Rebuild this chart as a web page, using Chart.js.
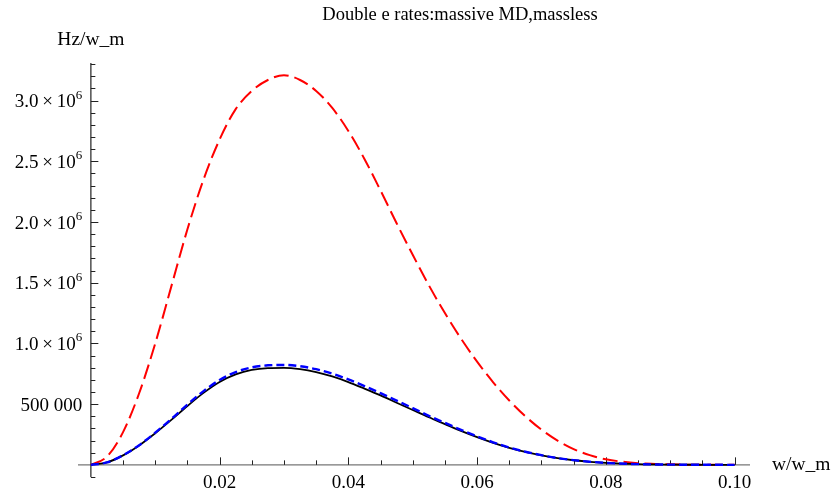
<!DOCTYPE html>
<html>
<head>
<meta charset="utf-8">
<script src="https://cdn.jsdelivr.net/npm/chart.js@4.4.0/dist/chart.umd.min.js"></script>
<style>
  html, body { margin: 0; padding: 0; background: #fff; }
  #wrap { width: 831px; height: 500px; }
</style>
</head>
<body>
<div id="wrap"><canvas id="canvas"></canvas></div>
<script>
// w/w_m sample points
const xVals = [0, 0.0025, 0.005, 0.0075, 0.01, 0.0125, 0.015, 0.0175, 0.02, 0.0225,
               0.025, 0.0275, 0.03, 0.0325, 0.035, 0.0375, 0.04, 0.0425, 0.045, 0.0475,
               0.05, 0.0525, 0.055, 0.0575, 0.06, 0.0625, 0.065, 0.0675, 0.07, 0.0725,
               0.075, 0.0775, 0.08, 0.085, 0.09, 0.095, 0.1];

// red long dashes
const massiveRate = [0, 68000, 270000, 590000, 1000000, 1470000, 1940000, 2350000, 2680000, 2930000,
                     3080000, 3170000, 3210000, 3170000, 3080000, 2940000, 2750000, 2520000, 2260000, 1990000,
                     1730000, 1480000, 1250000, 1040000, 850000, 680000, 530000, 400000, 290000, 200000,
                     130000, 80000, 46000, 14000, 4000, 1000, 200];

// blue short dashes
const mdRate = [0, 20000, 79000, 162000, 265000, 378000, 497000, 607000, 699000, 764000,
                803000, 820000, 823000, 812000, 788000, 751000, 704000, 649000, 591000, 529000,
                467000, 404000, 346000, 288000, 235000, 186000, 143000, 108000, 80000, 56000,
                39000, 26000, 16000, 6000, 2000, 600, 200];

// black solid
const masslessRate = [0, 20000, 78000, 160000, 260000, 370000, 485000, 593000, 683000, 745000,
                      782000, 797000, 799000, 788000, 764000, 728000, 682000, 628000, 572000, 512000,
                      452000, 392000, 336000, 280000, 228000, 181000, 140000, 106000, 78000, 55000,
                      38000, 25000, 16000, 6000, 2000, 600, 200];

const xTickValues = [0.02, 0.04, 0.06, 0.08, 0.1];
const xTickText = ["0.02", "0.04", "0.06", "0.08", "0.10"];
const yTickValues = [500000, 1000000, 1500000, 2000000, 2500000, 3000000];
const yTickText = ["500 000", "1.0\u2009\u00d7\u200910^6", "1.5\u2009\u00d7\u200910^6", "2.0\u2009\u00d7\u200910^6",
                   "2.5\u2009\u00d7\u200910^6", "3.0\u2009\u00d7\u200910^6"];

const titleText = "Double e rates:massive MD,massless";
const xAxisTitle = "w/w_m";
const yAxisTitle = "Hz/w_m";

const FONT = '"Liberation Serif", "DejaVu Serif", serif';

function toPoints(ys) {
    return xVals.map((x, i) => ({ x: x, y: ys[i] }));
}

// Mathematica-like axes: crossing at origin, ticks pointing inward
const mmaAxes = {
    id: "mmaAxes",
    beforeDatasetsDraw(chart) {
        const ctx = chart.ctx;
        const xs = chart.scales.x;
        const ys = chart.scales.y;
        const area = chart.chartArea;
        const x0 = xs.getPixelForValue(0);
        const y0 = ys.getPixelForValue(0);

        ctx.save();
        // axis lines
        ctx.lineWidth = 1.3;
        ctx.strokeStyle = "#777";
        ctx.beginPath();
        ctx.moveTo(area.left, y0);
        ctx.lineTo(area.right, y0);
        ctx.stroke();
        ctx.strokeStyle = "#333";
        ctx.beginPath();
        ctx.moveTo(x0, area.top);
        ctx.lineTo(x0, area.bottom);
        ctx.stroke();

        // x ticks every 0.005, major every 0.02
        ctx.lineWidth = 1;
        ctx.strokeStyle = "#222";
        for (let k = 1; k <= 20; k++) {
            const px = Math.round(xs.getPixelForValue(k * 0.005)) + 0.5;
            const len = (k % 4 === 0) ? 7.5 : 4.5;
            ctx.beginPath();
            ctx.moveTo(px, y0);
            ctx.lineTo(px, y0 - len);
            ctx.stroke();
        }
        // y ticks every 100000, major every 500000
        for (let k = -1; k <= 33; k++) {
            if (k === 0) continue;
            const py = Math.round(ys.getPixelForValue(k * 100000)) + 0.5;
            const len = (k % 5 === 0) ? 7.5 : 4.5;
            ctx.beginPath();
            ctx.moveTo(x0, py);
            ctx.lineTo(x0 + len, py);
            ctx.stroke();
        }
        ctx.restore();
    },
    afterDraw(chart) {
        const ctx = chart.ctx;
        const xs = chart.scales.x;
        const ys = chart.scales.y;
        const x0 = xs.getPixelForValue(0);
        const y0 = ys.getPixelForValue(0);

        ctx.save();
        ctx.fillStyle = "#000";
        ctx.textBaseline = "middle";

        // title
        ctx.font = "18.5px " + FONT;
        ctx.textAlign = "center";
        ctx.fillText(titleText, 460, 15);

        // x tick labels
        ctx.font = "19px " + FONT;
        xTickValues.forEach((v, i) => {
            ctx.fillText(xTickText[i], xs.getPixelForValue(v), y0 + 18);
        });

        // y tick labels (with superscript exponent)
        const rightEdge = x0 - 8.5;
        yTickValues.forEach((v, i) => {
            const py = ys.getPixelForValue(v) + 1.5;
            const parts = yTickText[i].split("^");
            ctx.font = "19px " + FONT;
            const baseW = ctx.measureText(parts[0]).width;
            let supW = 0;
            if (parts[1]) {
                ctx.font = "13px " + FONT;
                supW = ctx.measureText(parts[1]).width;
            }
            ctx.textAlign = "left";
            ctx.font = "19px " + FONT;
            ctx.fillText(parts[0], rightEdge - baseW - supW, py);
            if (parts[1]) {
                ctx.font = "13px " + FONT;
                ctx.fillText(parts[1], rightEdge - supW, py - 7);
            }
        });

        // axis labels
        ctx.font = "19.5px " + FONT;
        ctx.textAlign = "center";
        ctx.fillText(yAxisTitle, x0, 40);
        ctx.textAlign = "left";
        ctx.fillText(xAxisTitle, 772, y0);
        ctx.restore();
    }
};

const ctx = document.getElementById("canvas").getContext("2d");

new Chart(ctx, {
    type: "line",
    data: {
        datasets: [
            {
                label: "MD",
                data: toPoints(mdRate),
                borderColor: "#0000ff",
                borderWidth: 2.4,
                borderDash: [8, 4],
                pointRadius: 0,
                fill: false,
                cubicInterpolationMode: "monotone"
            },
            {
                label: "massless",
                data: toPoints(masslessRate),
                borderColor: "#000000",
                borderWidth: 1.8,
                pointRadius: 0,
                fill: false,
                cubicInterpolationMode: "monotone"
            },
            {
                label: "massive",
                data: toPoints(massiveRate),
                borderColor: "#ff0000",
                borderWidth: 2,
                borderDash: [15, 6],
                pointRadius: 0,
                fill: false,
                cubicInterpolationMode: "monotone"
            }
        ]
    },
    options: {
        responsive: true,
        maintainAspectRatio: false,
        animation: false,
        layout: { padding: { left: 78, right: 81, top: 63, bottom: 23 } },
        plugins: {
            legend: { display: false },
            tooltip: { enabled: false },
            title: { display: false }
        },
        scales: {
            x: {
                type: "linear",
                display: false,
                min: -0.002,
                max: 0.1024
            },
            y: {
                type: "linear",
                display: false,
                min: -100000,
                max: 3310000
            }
        }
    },
    plugins: [mmaAxes]
});
</script>
</body>
</html>
